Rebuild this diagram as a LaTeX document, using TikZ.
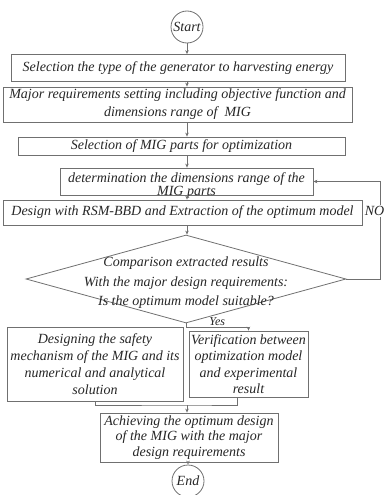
\documentclass[tikz,border=0pt]{standalone}
\usepackage{fontspec}
\setmainfont{Liberation Serif}
\usetikzlibrary{arrows.meta,shapes.geometric}
\definecolor{flowGray}{HTML}{707070}
\definecolor{flowInk}{HTML}{262626}

\begin{document}
\begin{tikzpicture}[x=1pt,y=-1pt,
  every node/.style={text=flowInk, align=center, inner sep=0pt,
    font=\fontsize{14}{16}\selectfont\itshape},
  procbox/.style={draw=flowGray, line width=0.8pt},
  termcirc/.style={circle, draw=flowGray, line width=0.8pt, minimum size=32pt},
  decide/.style={diamond, draw=flowGray, line width=0.8pt, minimum width=320pt, minimum height=88pt},
  flow/.style={draw=flowGray, line width=0.8pt, -{Stealth[length=4pt,width=3.5pt]}},
  wire/.style={draw=flowGray, line width=0.8pt}]
\useasboundingbox (0,0) rectangle (385,495);
\coordinate (spine) at (187,0);

\node[termcirc] (start) at (187,27) {Start};
\node[procbox, minimum width=334pt, minimum height=27pt] (gen) at (178,68)
  {Selection the type of the generator to harvesting energy};
\node[procbox, minimum width=349pt, minimum height=35pt, font=\fontsize{14}{18}\selectfont\itshape] (req) at (177.5,104.5)
  {Major requirements setting including objective function and\\dimensions range of~ MIG};
\node[procbox, minimum width=327pt, minimum height=18pt] (parts) at (181.5,146)
  {Selection of MIG parts for optimization};
\node[procbox, minimum width=253pt, minimum height=27pt] (dims) at (186.5,181.5) {};
\node[font=\fontsize{14}{13}\selectfont\itshape] (dimstxt) at (186.5,186)
  {determination the dimensions range of the\\MIG parts};
\node[procbox, minimum width=359pt, minimum height=25pt] (rsm) at (182.5,212.5)
  {Design with RSM-BBD and Extraction of the optimum model};
\node[decide] (dia) at (186,279) {};
\node[font=\fontsize{14}{19.5}\selectfont\itshape] (diatxt) at (186,283)
  {Comparison extracted results\\With the major design requirements:\\Is the optimum model suitable?};
\node[procbox, minimum width=176pt, minimum height=74pt, font=\fontsize{14}{17}\selectfont\itshape] (safety) at (95,364)
  {Designing the safety\\mechanism of the MIG and its\\numerical and analytical\\solution};
\node[procbox, minimum width=119pt, minimum height=66pt, font=\fontsize{14}{16.5}\selectfont\itshape] (verify) at (248.5,364)
  {Verification between\\optimization model\\and experimental\\result};
\node[procbox, minimum width=178pt, minimum height=49pt, font=\fontsize{14}{15.5}\selectfont\itshape] (achieve) at (189,437.5)
  {Achieving the optimum design\\of the MIG with the major\\design requirements};
\node[termcirc] (end) at (188,481) {End};

% main line
\foreach \a/\b in {start/gen,gen/req,req/parts,parts/dims,dims/rsm,rsm/dia}
  \draw[flow] (spine |- \a.south) -- (spine |- \b.north);

% NO loop back
\coordinate (noturn) at (380,279);
\draw[flow] (dia.east) -- (noturn) |- (dims.east);
\node[fill=white, inner sep=1pt] (nolbl) at (374.5,211) {NO};

% Yes branch
\draw[flow] (dia.south) -- ++(0,4) -| node[pos=0.25, above=1pt, font=\fontsize{12}{14}\selectfont\itshape] {Yes} (verify.north);

% merge
\coordinate (join) at (187,405);
\coordinate (vfoot) at ([xshift=-11.5pt]verify.south);
\draw[wire] (safety.south) |- (join) -| (vfoot);
\draw[flow] (join) -- (join |- achieve.north);
\draw[flow] (end |- achieve.south) -- (end);
\end{tikzpicture}
\end{document}
